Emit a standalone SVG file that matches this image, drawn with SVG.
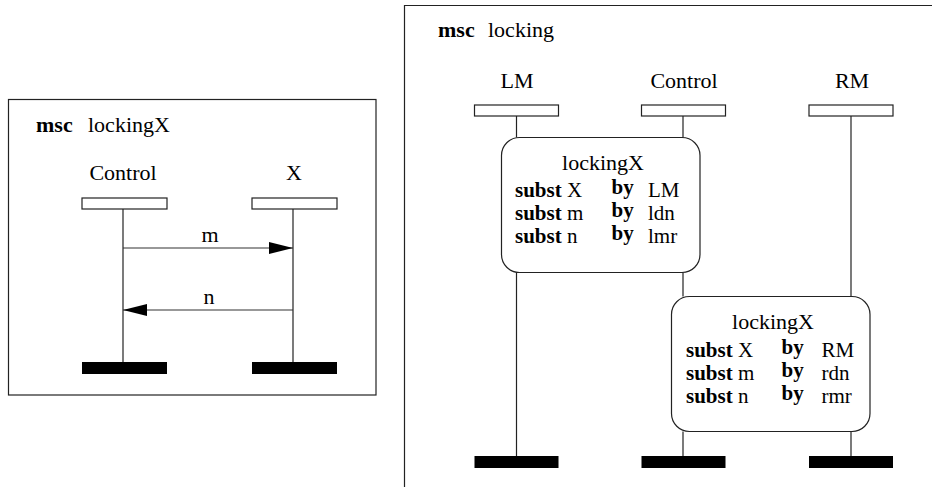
<svg xmlns="http://www.w3.org/2000/svg" width="932" height="487" viewBox="0 0 932 487" font-family="'Liberation Serif', 'Times New Roman', 'DejaVu Serif', serif">
  <style>
    text { font-family: "Liberation Serif", "Times New Roman", "DejaVu Serif", serif; font-size: 22px; fill: #000; }
    .sub { font-size: 21px; }
    .b { font-weight: bold; }
    .c { text-anchor: middle; }
    .frame { fill: none; stroke: #222; stroke-width: 1.2; }
    .head { fill: #fff; stroke: #222; stroke-width: 1.2; }
    .end { fill: #000; }
    .life { stroke: #222; stroke-width: 1.2; fill: none; }
    .ref { fill: #fff; stroke: #222; stroke-width: 1.2; }
    .msg { stroke: #333; stroke-width: 1.2; fill: none; }
  </style>
  <defs>
    <marker id="arrow" viewBox="0 0 24 12" refX="24" refY="6" markerWidth="24" markerHeight="12" markerUnits="userSpaceOnUse" orient="auto">
      <path d="M0,0 L24,6 L0,12 Z" fill="#000"/>
    </marker>
  </defs>

  <!-- MSC lockingX -->
  <g id="msc-lockingX">
    <rect class="frame" x="8.5" y="99.5" width="367.5" height="295.5"/>
    <text class="b" x="36" y="132">msc</text>
    <text x="88" y="132">lockingX</text>
  </g>
  <g id="inst-control-x">
    <text class="c" x="123" y="180">Control</text>
    <rect class="head" x="82" y="198" width="85" height="11"/>
    <line class="life" x1="123" y1="209" x2="123" y2="362"/>
    <rect class="end" x="82" y="362" width="85" height="12"/>
  </g>
  <g id="inst-x">
    <text class="c" x="294" y="180">X</text>
    <rect class="head" x="252" y="198" width="85" height="11"/>
    <line class="life" x1="293" y1="209" x2="293" y2="362"/>
    <rect class="end" x="252" y="362" width="85" height="12"/>
  </g>
  <g id="messages">
    <line class="msg" x1="123" y1="248" x2="293" y2="248" marker-end="url(#arrow)"/>
    <text class="c" x="210" y="242">m</text>
    <line class="msg" x1="293" y1="310" x2="123" y2="310" marker-end="url(#arrow)"/>
    <text class="c" x="209" y="304">n</text>
  </g>

  <!-- MSC locking -->
  <g id="msc-locking">
    <path class="frame" d="M932,5.5 H404.5 V487"/>
    <text class="b" x="438" y="37">msc</text>
    <text x="488" y="37">locking</text>
  </g>
  <g id="inst-lm">
    <text class="c" x="517" y="88">LM</text>
    <rect class="head" x="474.5" y="105" width="84" height="11"/>
    <rect class="end" x="474.5" y="456" width="84" height="12"/>
  </g>
  <g id="inst-control">
    <text class="c" x="684" y="88">Control</text>
    <rect class="head" x="641.5" y="105" width="84" height="11"/>
    <rect class="end" x="641.5" y="456" width="84" height="12"/>
  </g>
  <g id="inst-rm">
    <text class="c" x="852" y="88">RM</text>
    <rect class="head" x="809" y="105" width="84" height="11"/>
    <rect class="end" x="809" y="456" width="84" height="12"/>
  </g>

  <g id="lifelines">
    <line class="life" x1="516.5" y1="116" x2="516.5" y2="137.5"/>
    <line class="life" x1="516.5" y1="272.5" x2="516.5" y2="456"/>
    <line class="life" x1="683" y1="116" x2="683" y2="137.5"/>
    <line class="life" x1="683" y1="272.5" x2="683" y2="296.5"/>
    <line class="life" x1="683" y1="431.5" x2="683" y2="456"/>
    <line class="life" x1="851" y1="116" x2="851" y2="296.5"/>
    <line class="life" x1="851" y1="431.5" x2="851" y2="456"/>
  </g>

  <!-- reference lockingX for LM -->
  <g id="ref-lm">
    <rect class="ref" x="501.5" y="137.5" width="198.5" height="135" rx="18"/>
    <text class="c" x="603" y="170">lockingX</text>
    <text class="sub" x="515" y="197"><tspan class="b">subst</tspan> X</text>
    <text class="sub b" x="611.5" y="194">by</text>
    <text class="sub" x="648" y="197">LM</text>
    <text class="sub" x="515" y="220"><tspan class="b">subst</tspan> m</text>
    <text class="sub b" x="611.5" y="217">by</text>
    <text class="sub" x="648" y="220">ldn</text>
    <text class="sub" x="515" y="243"><tspan class="b">subst</tspan> n</text>
    <text class="sub b" x="611.5" y="240">by</text>
    <text class="sub" x="648" y="243">lmr</text>
  </g>

  <!-- reference lockingX for RM -->
  <g id="ref-rm">
    <rect class="ref" x="671.5" y="296.5" width="198.5" height="135" rx="18"/>
    <text class="c" x="773" y="329">lockingX</text>
    <text class="sub" x="686" y="357"><tspan class="b">subst</tspan> X</text>
    <text class="sub b" x="781.5" y="354">by</text>
    <text class="sub" x="821.5" y="357">RM</text>
    <text class="sub" x="686" y="380"><tspan class="b">subst</tspan> m</text>
    <text class="sub b" x="781.5" y="377">by</text>
    <text class="sub" x="821.5" y="380">rdn</text>
    <text class="sub" x="686" y="403"><tspan class="b">subst</tspan> n</text>
    <text class="sub b" x="781.5" y="400">by</text>
    <text class="sub" x="821.5" y="403">rmr</text>
  </g>
</svg>
